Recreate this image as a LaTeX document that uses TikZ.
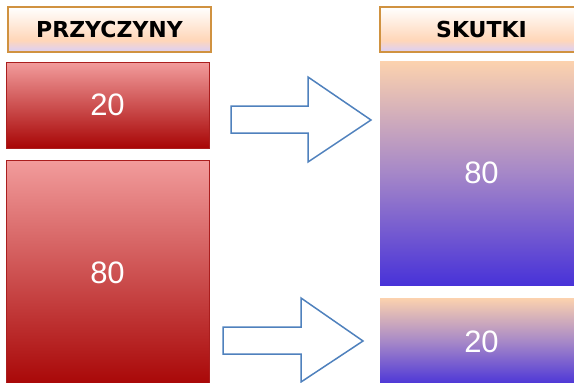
\documentclass[tikz,border=0pt]{standalone}
\usepackage{fontspec}
\newfontfamily\headfont{DejaVu Sans}
\newfontfamily\numfont{Liberation Sans}
\definecolor{hdrborder}{RGB}{208,146,64}
\definecolor{redborder}{RGB}{170,30,30}
\definecolor{arrowblue}{RGB}{79,129,189}
% shadings are given from bottom to top; TikZ maps 25bp..75bp onto the node
\pgfdeclareverticalshading{hdrshade}{100bp}{
  color(0bp)=(rgb,255:red,218;green,208;blue,240);
  color(25bp)=(rgb,255:red,218;green,208;blue,240);
  color(30bp)=(rgb,255:red,232;green,210;blue,226);
  color(38bp)=(rgb,255:red,255;green,214;blue,184);
  color(75bp)=(white);
  color(100bp)=(white)}
\pgfdeclareverticalshading{redshade}{100bp}{
  color(0bp)=(rgb,255:red,168;green,6;blue,6);
  color(25bp)=(rgb,255:red,168;green,6;blue,6);
  color(75bp)=(rgb,255:red,242;green,156;blue,156);
  color(100bp)=(rgb,255:red,242;green,156;blue,156)}
\pgfdeclareverticalshading{blueshade}{100bp}{
  color(0bp)=(rgb,255:red,72;green,50;blue,216);
  color(25bp)=(rgb,255:red,72;green,50;blue,216);
  color(50bp)=(rgb,255:red,165;green,135;blue,200);
  color(75bp)=(rgb,255:red,252;green,210;blue,174);
  color(100bp)=(rgb,255:red,252;green,210;blue,174)}
\tikzset{
  header/.style={draw=hdrborder, line width=1.2pt, shading=hdrshade,
    minimum width=203pt, minimum height=45pt, inner sep=0pt,
    font=\headfont\bfseries\fontsize{22}{24}\selectfont, text=black},
  causebox/.style={draw=redborder, line width=0.8pt, shading=redshade,
    minimum width=203pt, inner sep=0pt,
    font=\numfont\fontsize{31}{34}\selectfont, text=white},
  effectbox/.style={shading=blueshade,
    minimum width=203pt, inner sep=0pt,
    font=\numfont\fontsize{31}{34}\selectfont, text=white},
  blockarrow/.style={draw=arrowblue, line width=1.5pt, fill=white, line join=miter}
}
\begin{document}
\begin{tikzpicture}[x=1pt,y=-1pt]
\useasboundingbox (0,0) rectangle (574,383);
\begin{scope}
\clip (0,0) rectangle (574,383);
% column headers
\node[header] (hcause) at (109.5,29.5) {PRZYCZYNY};
\node[header] (heffect) at (481.5,29.5) {SKUTKI};
% causes
\node[causebox, minimum height=86pt] (c20) at (107.5,105) {20};
\node[causebox, minimum height=226pt] (c80) at (107.5,273) {80};
% effects
\node[effectbox, minimum height=224pt] (e80) at (481.5,173) {80};
\node[effectbox, minimum height=88pt] (e20) at (481.5,342) {20};
\end{scope}
% block arrows
\draw[blockarrow] (231,106) -- (308,106) -- (308,77) -- (371,120)
  -- (308,162) -- (308,133) -- (231,133) -- cycle;
\draw[blockarrow] (223,327) -- (301,327) -- (301,298) -- (363,341)
  -- (301,382) -- (301,354) -- (223,354) -- cycle;
\end{tikzpicture}
\end{document}
